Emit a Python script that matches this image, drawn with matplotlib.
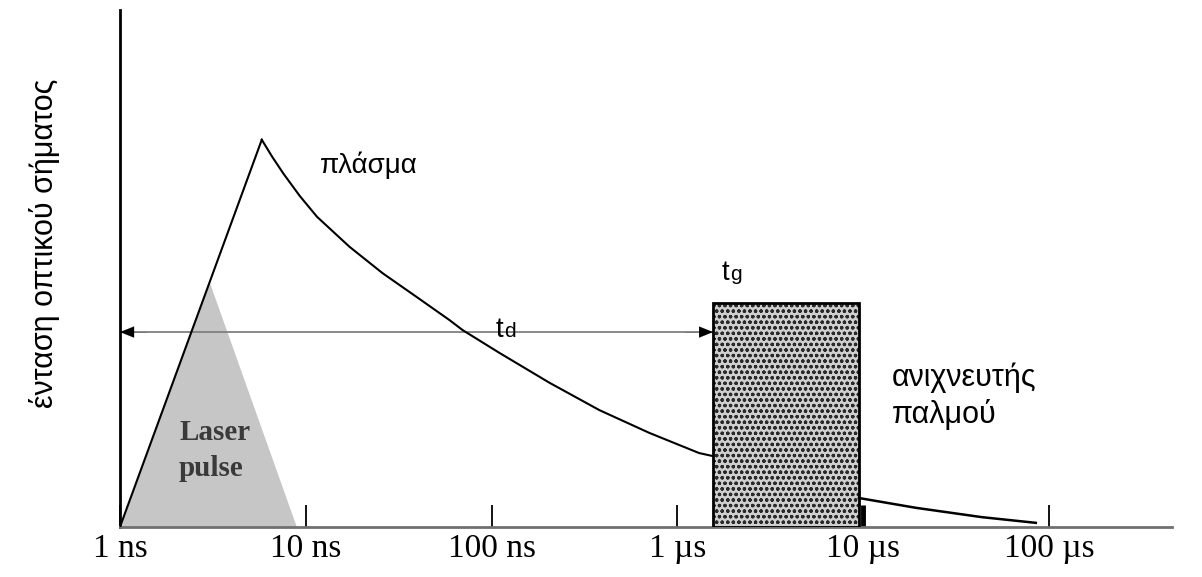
import matplotlib.pyplot as plt
from matplotlib.patches import Rectangle, FancyArrowPatch

plt.rcParams['hatch.linewidth'] = 0.9

# time axis: ticks and labels
tick_times = [1e-9, 1e-8, 1e-7, 1e-6, 1e-5, 1e-4]
tick_labels = ['1 ns', '10 ns', '100 ns', '1 µs', '10 µs', '100 µs']

# laser pulse (grey triangle), times in seconds
laser_t = [1.0e-9, 3.05e-9, 8.95e-9]
laser_y = [0.0, 0.472, 0.0]

# plasma emission: rise, decay until gate opens, tail after gate
rise_t = [1.0e-9, 5.8e-9]
rise_y = [0.0, 0.749]
decay_t = [5.8e-9, 6.6e-9, 7.6e-9, 9.3e-9, 11.5e-9, 17.2e-9, 25.9e-9, 39.5e-9,
           59.5e-9, 69.8e-9, 110e-9, 205e-9, 381e-9, 707e-9, 1.31e-6, 1.56e-6]
decay_y = [0.749, 0.716, 0.683, 0.640, 0.600, 0.542, 0.491, 0.445,
           0.400, 0.381, 0.337, 0.279, 0.226, 0.182, 0.143, 0.137]
tail_t = [9.5e-6, 19.3e-6, 43.6e-6, 85.1e-6]
tail_y = [0.056, 0.037, 0.019, 0.008]

# detector gate
gate_start = 1.56e-6
gate_end = 9.5e-6
gate_height = 0.433
delay_level = 0.377

fig = plt.figure(figsize=(12.02, 5.77), dpi=100)
ax = fig.add_axes([0.0998, 0.0867, 0.8752, 0.896])
ax.set_xscale('log')
ax.set_xlim(1e-9, 4.6e-4)
ax.set_ylim(0, 1)

ax.fill(laser_t, laser_y, color='#c6c6c6', lw=0, zorder=1)
ax.plot(rise_t, rise_y, color='black', lw=1.5, zorder=3)
ax.plot(decay_t, decay_y, color='black', lw=1.5, zorder=3)
ax.plot(tail_t, tail_y, color='black', lw=1.8, zorder=3)

ax.add_patch(Rectangle((gate_start, 0), gate_end - gate_start, gate_height,
                       facecolor='#cfcfcf', edgecolor='#2a2a2a', hatch='ooo',
                       lw=0, zorder=2))
ax.add_patch(Rectangle((gate_start, 0), gate_end - gate_start, gate_height,
                       facecolor='none', edgecolor='black', lw=2, zorder=4))

# delay arrow: grey line with black heads
ax.plot([1.0e-9, gate_start], [delay_level, delay_level], color='#808080', lw=1.3, zorder=2)
ax.add_patch(FancyArrowPatch((1.4e-9, delay_level), (1.0e-9, delay_level),
                             arrowstyle='-|>,head_length=10,head_width=4', color='black',
                             lw=0.1, shrinkA=0, shrinkB=0, zorder=3))
ax.add_patch(FancyArrowPatch((1.1e-6, delay_level), (gate_start, delay_level),
                             arrowstyle='-|>,head_length=10,head_width=4', color='black',
                             lw=0.1, shrinkA=0, shrinkB=0, zorder=3))

# texts
sans = ['Liberation Sans', 'DejaVu Sans']
serif = ['Liberation Serif', 'DejaVu Serif']
fig.text(320 / 1202, 1 - 165 / 577, 'πλάσμα', family=sans, fontsize=20, va='center')
fig.text(496 / 1202, 1 - 337 / 577, 't', family=sans, fontsize=20, va='baseline')
fig.text(504 / 1202, 1 - 337 / 577, 'd', family=sans, fontsize=15, va='baseline')
fig.text(722 / 1202, 1 - 280 / 577, 't', family=sans, fontsize=20, va='baseline')
fig.text(730 / 1202, 1 - 280 / 577, 'g', family=sans, fontsize=15, va='baseline')
fig.text(892 / 1202, 1 - 378 / 577, 'ανιχνευτής', family=sans, fontsize=22, va='center')
fig.text(892 / 1202, 1 - 414 / 577, 'παλμού', family=sans, fontsize=22, va='center')
fig.text(179 / 1202, 1 - 433 / 577, 'Laser', family=serif, fontsize=21,
         fontweight='bold', color='#3a3a3a', va='center')
fig.text(179 / 1202, 1 - 468 / 577, 'pulse', family=serif, fontsize=21,
         fontweight='bold', color='#3a3a3a', va='center')
fig.text(45 / 1202, 1 - 243 / 577, 'ένταση οπτικού σήματος', family=sans, fontsize=22,
         rotation=90, ha='center', va='center')

# axes styling
for side in ['top', 'right']:
    ax.spines[side].set_visible(False)
ax.spines['left'].set_linewidth(2)
ax.spines['left'].set_color('black')
ax.spines['bottom'].set_linewidth(2)
ax.spines['bottom'].set_color('#707070')
ax.set_yticks([])
ax.set_xticks(tick_times)
ax.set_xticklabels(tick_labels, family=serif, fontsize=24)
ax.minorticks_off()
ax.tick_params(axis='x', direction='in', length=16, width=1.3, color='black', pad=5)
lines = ax.get_xticklines()
lines[8].set_markeredgewidth(3.5)

fig.savefig('out.png', dpi=100)
